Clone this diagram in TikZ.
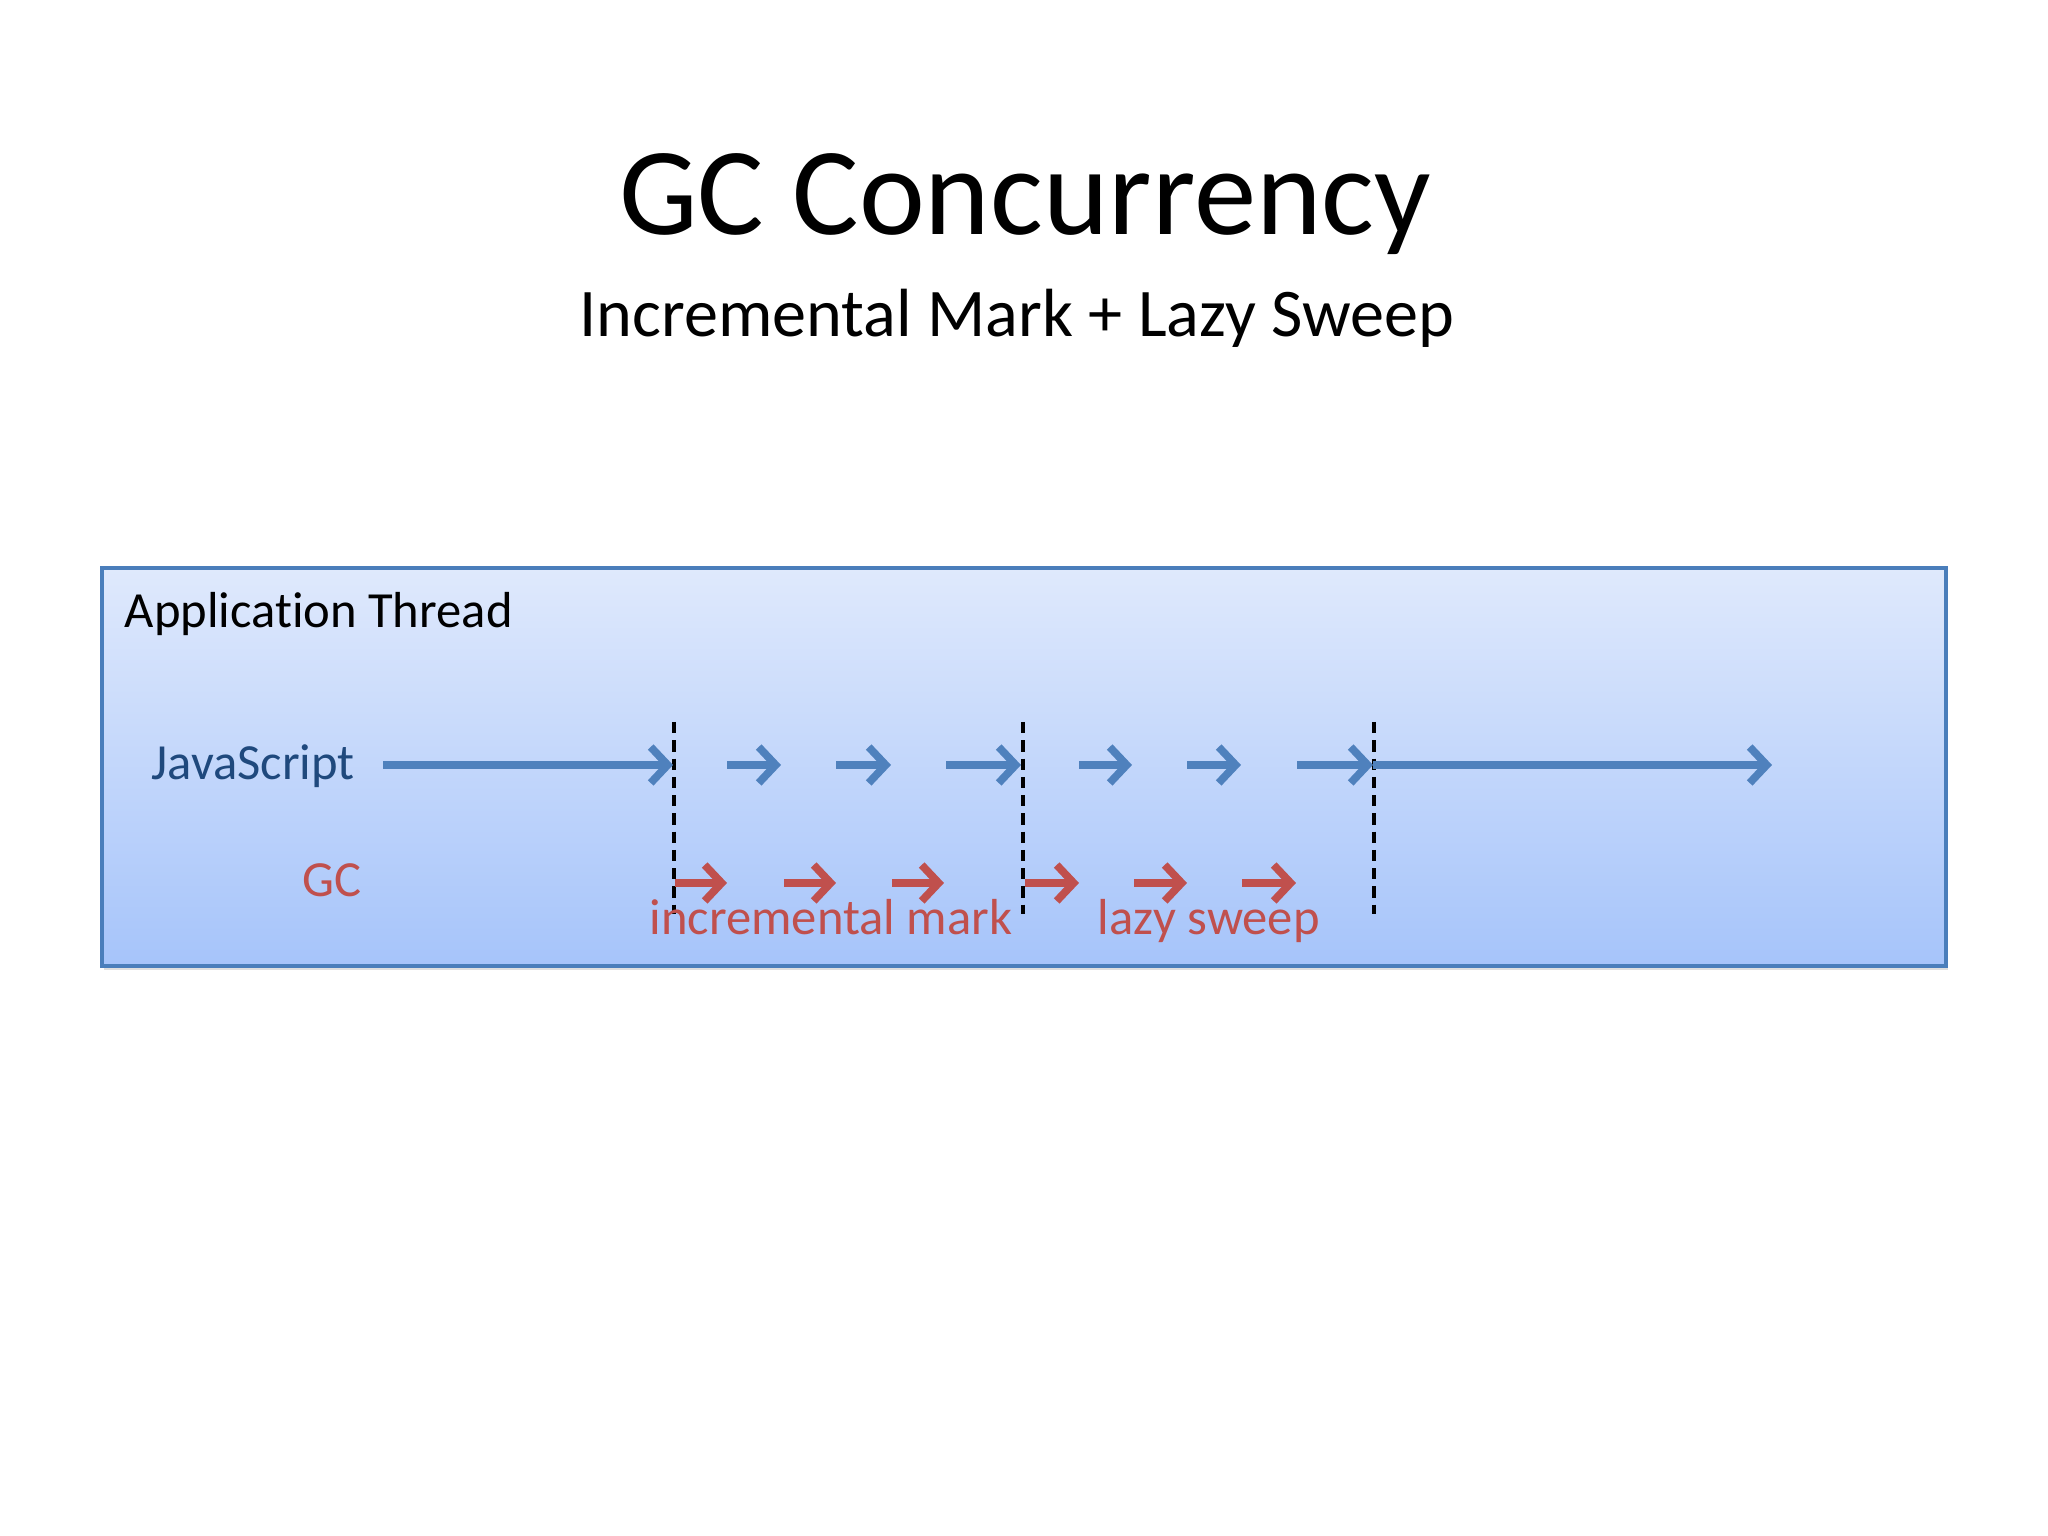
\documentclass[tikz,border=0pt]{standalone}
\usepackage{fontspec}
\setmainfont{Carlito}[Ligatures=NoCommon]
\usepackage{tikz}
\usetikzlibrary{arrows.meta,shadows}
\definecolor{jsblue}{RGB}{79,129,189}
\definecolor{jstext}{RGB}{31,73,125}
\definecolor{gcred}{RGB}{192,80,77}
\definecolor{boxtop}{RGB}{223,233,252}
\definecolor{boxbot}{RGB}{166,196,250}
\definecolor{boxline}{RGB}{74,126,187}
\tikzset{
  jsarrow/.style={jsblue, line width=2.2pt, -{Straight Barb[length=1.7mm,width=3.6mm]}},
  gcarrow/.style={gcred, line width=2.2pt, -{Straight Barb[length=1.7mm,width=3.6mm]}},
  phase/.style={black, line width=1pt, dash pattern=on 3.2pt off 2pt},
  label/.style={inner sep=0pt, font=\fontsize{14.4}{16}\selectfont}
}
\begin{document}
\begin{tikzpicture}
        \useasboundingbox (0,0) rectangle (20.48,15.36);
        \fill[white] (0,0) rectangle (20.48,15.36);
        % title
        \node [anchor=base, inner sep=0pt, font=\fontsize{35.5}{40}\selectfont] (title) at (10.25,13.01) {GC Concurrency};
        \node [anchor=base, inner sep=0pt, font=\fontsize{19.4}{22}\selectfont] (subtitle) at (10.17,11.99) {Incremental Mark + Lazy Sweep};
        % thread box
        \shade[top color=boxtop, bottom color=boxbot, draw=boxline, line width=1pt,
               drop shadow={opacity=0.25, shadow xshift=0.6pt, shadow yshift=-1.2pt}] (1.02,5.70) rectangle (19.46,9.68);
        \node [label, anchor=base west] (thread) at (1.24,9.08) {Application Thread};
        \node [label, anchor=base west, text=jstext] (js) at (1.51,7.56) {JavaScript};
        \node [label, anchor=base west, text=gcred] (gc) at (3.02,6.39) {GC};
        % phase boundaries
        \foreach \x [count=\i] in {6.74,10.23,13.74} {
            \coordinate (top\i) at (\x,8.14);
            \coordinate (bot\i) at (\x,6.22);
            \draw[phase] (top\i) -- (bot\i);
        }
        % javascript steps
        \foreach \a/\b [count=\i] in {3.83/6.73,7.27/7.81,8.36/8.91,9.46/10.21,10.79/11.32,11.87/12.41,12.97/13.73,13.73/17.72} {
            \coordinate (js\i a) at (\a,7.71);
            \coordinate (js\i b) at (\b,7.71);
            \draw[jsarrow] (js\i a) -- (js\i b);
        }
        % gc steps
        \foreach \a/\b [count=\i] in {6.75/7.27,7.84/8.36,8.92/9.44,10.25/10.79,11.34/11.87,12.42/12.96} {
            \coordinate (gc\i a) at (\a,6.53);
            \coordinate (gc\i b) at (\b,6.53);
            \draw[gcarrow] (gc\i a) -- (gc\i b);
        }
        \node [label, anchor=base west, text=gcred] (mark) at (6.49,6.01) {incremental mark};
        \node [label, anchor=base west, text=gcred] (sweep) at (10.97,6.01) {lazy sweep};
    \end{tikzpicture}
\end{document}
